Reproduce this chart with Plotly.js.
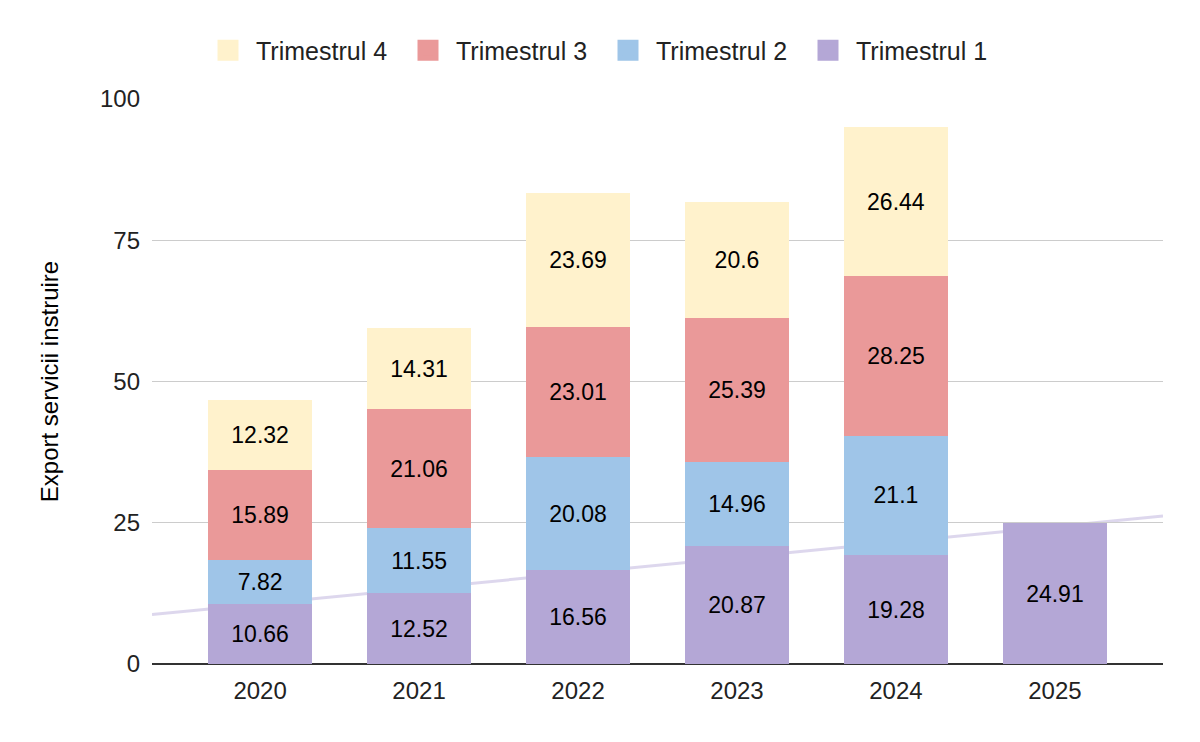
<!DOCTYPE html>
<html>
<head>
<meta charset="utf-8">
<script src="https://cdn.plot.ly/plotly-3.0.1.min.js"></script>
<style>html,body{margin:0;padding:0;background:#fff;}#chart{width:1200px;height:742px;}</style>
</head>
<body>
<div id="chart"></div>
<script>
const years = ['2020', '2021', '2022', '2023', '2024', '2025'];
const trimestrul1 = [10.66, 12.52, 16.56, 20.87, 19.28, 24.91];
const trimestrul2 = [7.82, 11.55, 20.08, 14.96, 21.1, null];
const trimestrul3 = [15.89, 21.06, 23.01, 25.39, 28.25, null];
const trimestrul4 = [12.32, 14.31, 23.69, 20.6, 26.44, null];
const seriesNames = ['Trimestrul 1', 'Trimestrul 2', 'Trimestrul 3', 'Trimestrul 4'];
const colors = ['#b4a7d6', '#9fc5e8', '#ea9999', '#fff2cc'];
const yTicks = [0, 25, 50, 75, 100];

const FONT = '"Liberation Sans", Arial, sans-serif';
const xIdx = years.map((_, i) => i);
const series = [trimestrul1, trimestrul2, trimestrul3, trimestrul4];

const traces = series.map((vals, k) => ({
  type: 'bar',
  name: seriesNames[k],
  x: xIdx,
  y: vals,
  text: vals.map(v => v === null ? '' : String(v)),
  textposition: 'inside',
  insidetextanchor: 'middle',
  textangle: 0,
  constraintext: 'none',
  textfont: {family: FONT, size: 23, color: '#000000'},
  marker: {color: colors[k], line: {width: 0}},
  width: 0.655,
  showlegend: false,
  hoverinfo: 'none'
}));

// legend entries (larger square swatches)
series.forEach((vals, k) => {
  traces.push({
    type: 'scatter', mode: 'markers', name: seriesNames[k],
    x: [null], y: [null],
    marker: {symbol: 'square', size: 16, color: colors[k], line: {color: colors[k], width: 5}},
    showlegend: true, hoverinfo: 'none'
  });
});

// linear trendline (least squares) of Trimestrul 1
const n = trimestrul1.length;
const mx = xIdx.reduce((a, b) => a + b, 0) / n;
const my = trimestrul1.reduce((a, b) => a + b, 0) / n;
let sxy = 0, sxx = 0;
for (let i = 0; i < n; i++) { sxy += (xIdx[i] - mx) * (trimestrul1[i] - my); sxx += (xIdx[i] - mx) ** 2; }
const slope = sxy / sxx, icpt = my - slope * mx;
const xr = [-0.68, 5.68];

const layout = {
  width: 1200, height: 742,
  margin: {l: 152, r: 37, t: 99, b: 78},
  paper_bgcolor: '#ffffff', plot_bgcolor: '#ffffff',
  barmode: 'stack',
  font: {family: FONT, size: 23, color: '#000000'},
  showlegend: true,
  legend: {
    orientation: 'h', traceorder: 'reversed',
    xref: 'container', yref: 'container',
    x: 0.5, xanchor: 'center', y: 0.932, yanchor: 'middle',
    font: {family: FONT, size: 25, color: '#222222'},
    itemsizing: 'trace', itemwidth: 46,
    entrywidth: 139, entrywidthmode: 'pixels'
  },
  xaxis: {
    range: xr, tickvals: xIdx, ticktext: years,
    showgrid: false, zeroline: false, showline: false, ticks: '',
    ticklabelstandoff: 10,
    tickfont: {family: FONT, size: 24, color: '#222222'}, fixedrange: true
  },
  yaxis: {
    range: [0, 100], tickvals: yTicks, ticktext: yTicks.map(String),
    showgrid: true, gridcolor: '#cccccc', gridwidth: 1,
    zeroline: true, zerolinecolor: '#333333', zerolinewidth: 2,
    showline: false, ticks: '', ticklabelstandoff: 11,
    tickfont: {family: FONT, size: 24, color: '#222222'},
    title: {text: 'Export servicii instruire', font: {family: FONT, size: 24, color: '#000000'}, standoff: 34},
    fixedrange: true
  },
  shapes: [{
    type: 'line', xref: 'x', yref: 'y', layer: 'below',
    x0: xr[0], y0: icpt + slope * xr[0], x1: xr[1], y1: icpt + slope * xr[1],
    line: {color: 'rgba(180,167,214,0.45)', width: 3}
  }]
};

Plotly.newPlot('chart', traces, layout, {displayModeBar: false, staticPlot: true});
</script>
</body>
</html>
